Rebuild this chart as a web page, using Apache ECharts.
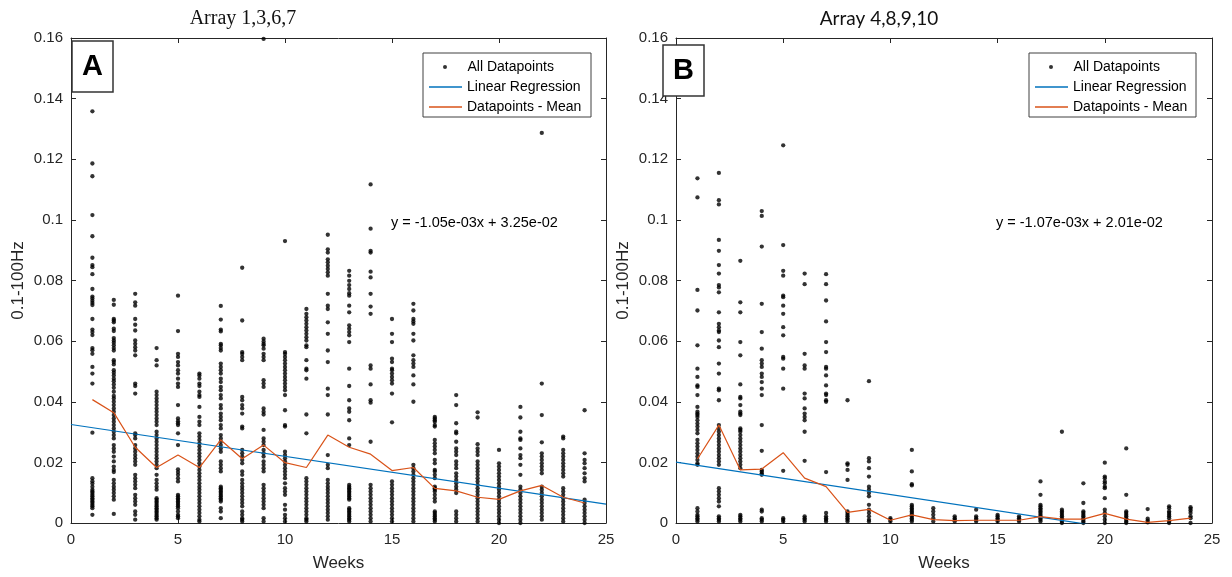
<!DOCTYPE html>
<html>
<head>
<meta charset="utf-8">
<script src="https://cdn.jsdelivr.net/npm/echarts@6/dist/echarts.min.js"></script>
<style>
  html, body { margin: 0; padding: 0; background: #fff; }
  #chart { width: 1232px; height: 577px; }
</style>
</head>
<body>
<div id="chart"></div>
<script>
// Recording weeks (x positions of every column of points)
const weeks = [1,2,3,4,5,6,7,8,9,10,11,12,13,14,15,16,17,18,19,20,21,22,23,24];

// Panel A: arrays 1,3,6,7 — one list of 0.1-100Hz values per week
const pointsA = [
  [0.1358,0.1186,0.1144,0.1016,0.0946,0.0875,0.0851,0.0844,0.0821,0.0772,0.0747,0.0741,0.0733,0.0726,0.0719,0.0673,0.0638,0.063,0.062,0.0577,0.057,0.0558,0.0515,0.0493,0.046,0.0298,0.0148,0.0138,0.013,0.012,0.011,0.0104,0.0099,0.0093,0.0088,0.0082,0.0077,0.0071,0.0066,0.006,0.0055,0.0049,0.0027],
  [0.0736,0.072,0.0673,0.0668,0.0662,0.0641,0.0633,0.061,0.0602,0.0595,0.0586,0.0577,0.0569,0.0537,0.0531,0.0523,0.0504,0.0496,0.0487,0.0476,0.0468,0.0457,0.0446,0.0433,0.0419,0.0411,0.04,0.0389,0.0378,0.0367,0.0356,0.0345,0.0334,0.0323,0.0312,0.0301,0.029,0.0279,0.0257,0.0246,0.0235,0.0219,0.0203,0.0186,0.0175,0.0168,0.0142,0.0131,0.012,0.011,0.0099,0.0088,0.0077,0.003],
  [0.0756,0.0728,0.0717,0.0673,0.0654,0.0635,0.0602,0.0591,0.058,0.0569,0.0553,0.046,0.0452,0.0427,0.0296,0.029,0.0279,0.0257,0.0246,0.0235,0.0224,0.0214,0.0203,0.0192,0.0159,0.0148,0.0137,0.0126,0.0115,0.0093,0.0082,0.0071,0.006,0.0038,0.0027,0.0011],
  [0.0577,0.0537,0.052,0.0433,0.0422,0.0411,0.04,0.0389,0.0378,0.0367,0.0356,0.0345,0.0334,0.0323,0.0301,0.029,0.0279,0.0268,0.0257,0.0246,0.0235,0.0224,0.0214,0.0203,0.0192,0.0181,0.0159,0.0142,0.0131,0.012,0.011,0.0082,0.0077,0.0071,0.0066,0.006,0.0055,0.0049,0.0044,0.0038,0.0033,0.0027,0.0022,0.0016,0.0011],
  [0.075,0.0633,0.0558,0.0548,0.0531,0.052,0.0504,0.0493,0.0476,0.046,0.0449,0.0389,0.0345,0.0336,0.0329,0.0323,0.0296,0.0257,0.0177,0.0168,0.0159,0.0148,0.0137,0.0093,0.0088,0.0082,0.0077,0.0071,0.0066,0.006,0.0055,0.0049,0.0038,0.0027,0.0022,0.0016],
  [0.0493,0.0487,0.0476,0.046,0.0452,0.0433,0.0422,0.0416,0.0383,0.035,0.0334,0.0323,0.0296,0.0285,0.0274,0.0263,0.0252,0.0241,0.023,0.0219,0.0208,0.0197,0.0186,0.0175,0.0164,0.0153,0.0142,0.0131,0.012,0.011,0.0099,0.0088,0.0077,0.0066,0.0055,0.0044,0.0033,0.0022,0.0011,0.0005],
  [0.0716,0.0671,0.0638,0.0632,0.0591,0.0586,0.0577,0.0569,0.0526,0.0515,0.0504,0.0493,0.0476,0.0465,0.0449,0.0438,0.0422,0.0411,0.0389,0.0378,0.0361,0.035,0.0339,0.0323,0.0312,0.029,0.0279,0.0268,0.0257,0.0246,0.0235,0.0203,0.0192,0.0181,0.017,0.012,0.0115,0.011,0.0104,0.0099,0.0093,0.0088,0.0082,0.0077,0.0071,0.0049,0.0038,0.0016],
  [0.0842,0.0668,0.0564,0.0558,0.0548,0.0537,0.0416,0.0405,0.0389,0.0378,0.0361,0.0318,0.0312,0.0241,0.023,0.0219,0.0208,0.0197,0.017,0.0159,0.0142,0.0131,0.012,0.011,0.0099,0.0088,0.0077,0.0066,0.0055,0.0038,0.0027,0.0016,0.0011,0.0005],
  [0.1597,0.0608,0.0599,0.0591,0.0586,0.0575,0.0558,0.0548,0.0537,0.0471,0.046,0.0449,0.0378,0.0367,0.0358,0.0307,0.0279,0.0268,0.0257,0.0241,0.023,0.0219,0.0203,0.0192,0.0181,0.017,0.0126,0.0115,0.0104,0.0093,0.0082,0.0071,0.006,0.0049,0.0016,0.0005],
  [0.093,0.0564,0.0558,0.0548,0.0537,0.0526,0.0515,0.0504,0.0493,0.0482,0.0471,0.046,0.0449,0.0438,0.0422,0.0372,0.0323,0.0318,0.0235,0.0224,0.0214,0.0203,0.0192,0.0181,0.017,0.0159,0.0148,0.0131,0.0115,0.0104,0.0093,0.006,0.0044,0.0027,0.0016,0.0005],
  [0.0706,0.069,0.0679,0.0668,0.0657,0.0646,0.0635,0.0624,0.0613,0.0602,0.0586,0.058,0.0537,0.0509,0.0504,0.0476,0.0358,0.0296,0.0148,0.0137,0.0126,0.0115,0.0104,0.0093,0.0082,0.0071,0.006,0.0049,0.0038,0.0027,0.0016,0.0011,0.0005],
  [0.0951,0.0903,0.0892,0.087,0.086,0.0849,0.0838,0.0827,0.0816,0.0756,0.0717,0.0706,0.0662,0.0624,0.0569,0.0531,0.0443,0.0422,0.0358,0.0224,0.0192,0.0181,0.0142,0.0131,0.012,0.011,0.0099,0.0088,0.0077,0.0066,0.0055,0.0044,0.0033,0.0022,0.0011],
  [0.0832,0.0816,0.0799,0.0785,0.0772,0.0758,0.075,0.0717,0.0695,0.0652,0.0641,0.063,0.0619,0.0597,0.0509,0.0452,0.0405,0.0378,0.0367,0.0339,0.0279,0.0257,0.0126,0.012,0.0115,0.011,0.0104,0.0099,0.0093,0.0088,0.0082,0.0077,0.0049,0.0044,0.0038,0.0033,0.0027,0.0022,0.0016,0.0011,0.0005],
  [0.1117,0.0971,0.0898,0.0892,0.0829,0.081,0.0756,0.0714,0.069,0.052,0.0509,0.0457,0.0405,0.0397,0.0268,0.0126,0.0115,0.0104,0.0093,0.0082,0.0071,0.006,0.0049,0.0038,0.0027,0.0016,0.0005],
  [0.0673,0.0624,0.0597,0.0542,0.0531,0.0509,0.0504,0.0493,0.0482,0.0471,0.046,0.0427,0.0332,0.0137,0.0126,0.0115,0.0104,0.0093,0.0082,0.0071,0.006,0.0049,0.0038,0.0027,0.0016,0.0005],
  [0.0723,0.0701,0.0673,0.0665,0.0657,0.0624,0.0602,0.0553,0.0537,0.0526,0.0515,0.0487,0.0457,0.04,0.0192,0.0181,0.017,0.0159,0.0148,0.0137,0.0126,0.0115,0.0104,0.0093,0.0082,0.0071,0.006,0.0049,0.0038,0.0027,0.0016,0.0005],
  [0.035,0.0345,0.0339,0.0334,0.0323,0.0318,0.0274,0.0263,0.0252,0.0241,0.023,0.0208,0.0197,0.0175,0.017,0.0159,0.0148,0.012,0.0115,0.011,0.0104,0.0093,0.0082,0.0071,0.0038,0.0033,0.0027,0.0022,0.0016,0.0011,0.0005],
  [0.0422,0.0389,0.0329,0.0301,0.0296,0.0268,0.0246,0.0235,0.0224,0.0203,0.0192,0.0181,0.0164,0.0153,0.0142,0.0131,0.012,0.011,0.0099,0.0038,0.0027,0.0016,0.0005],
  [0.0365,0.0348,0.026,0.0246,0.0235,0.0224,0.0203,0.0192,0.0181,0.017,0.0159,0.0148,0.0137,0.0126,0.0115,0.0104,0.0093,0.0082,0.0071,0.006,0.0049,0.0038,0.0027,0.0016,0.0005],
  [0.0241,0.0197,0.0186,0.0175,0.0164,0.0153,0.0142,0.0131,0.012,0.011,0.0099,0.0088,0.0077,0.0066,0.0055,0.0044,0.0033,0.0022,0.0011,0],
  [0.0383,0.0348,0.0301,0.0279,0.0274,0.0246,0.0224,0.0214,0.0192,0.0159,0.012,0.011,0.0099,0.0088,0.0077,0.0066,0.0055,0.0044,0.0033,0.0022,0.0011,0],
  [0.1287,0.046,0.0356,0.0266,0.023,0.0219,0.0208,0.0197,0.0186,0.0175,0.0164,0.012,0.011,0.0099,0.0088,0.0077,0.0066,0.0055,0.0044,0.0033,0.0022,0.0011],
  [0.0285,0.0279,0.0241,0.023,0.0219,0.0208,0.0197,0.0186,0.0175,0.0164,0.0153,0.0115,0.0104,0.0093,0.0082,0.0071,0.006,0.0049,0.0038,0.0027,0.0016,0.0005],
  [0.0372,0.023,0.0208,0.0197,0.0181,0.0164,0.0148,0.0137,0.0077,0.0066,0.0055,0.0044,0.0033,0.0022,0.0011,0]
];
const meanA = [0.0407,0.0364,0.025,0.0183,0.0224,0.0183,0.0274,0.0212,0.0257,0.0199,0.0183,0.029,0.025,0.0227,0.0173,0.0183,0.0114,0.0106,0.0085,0.0078,0.0106,0.0124,0.0085,0.0066];
const slopeA = -1.05e-03;
const interceptA = 3.25e-02;

// Panel B: arrays 4,8,9,10
const pointsB = [
  [0.1137,0.1074,0.0769,0.0701,0.0586,0.0509,0.0482,0.0454,0.0449,0.0422,0.0383,0.0367,0.0361,0.0356,0.035,0.0339,0.0328,0.0318,0.0307,0.0296,0.0274,0.0263,0.0252,0.0241,0.023,0.0219,0.0208,0.0197,0.0192,0.0049,0.0038,0.0027,0.0022,0.0016,0.0011,0.0005],
  [0.1155,0.1065,0.1051,0.0934,0.0898,0.0851,0.0823,0.0785,0.0777,0.0761,0.0695,0.0657,0.0646,0.0635,0.063,0.0602,0.058,0.0526,0.0493,0.0443,0.0438,0.0405,0.0323,0.0312,0.0301,0.029,0.0279,0.0268,0.0257,0.0246,0.0235,0.0224,0.0214,0.0203,0.0192,0.0115,0.0104,0.0093,0.0082,0.0071,0.0055,0.0022,0.0016,0.0011,0.0005],
  [0.0865,0.0728,0.0695,0.0597,0.0553,0.0457,0.0416,0.0411,0.0389,0.0367,0.0361,0.0356,0.0312,0.0307,0.0301,0.029,0.0279,0.0268,0.0257,0.0246,0.0235,0.0224,0.0214,0.0203,0.0192,0.0181,0.0027,0.0022,0.0016,0.0011,0.0005],
  [0.1029,0.1013,0.0912,0.0723,0.063,0.0575,0.0537,0.0526,0.0515,0.0493,0.0482,0.0465,0.0443,0.0422,0.0323,0.0238,0.0175,0.017,0.0164,0.0159,0.0044,0.0038,0.0016,0.0011,0.0005],
  [0.1246,0.0917,0.0832,0.0816,0.075,0.0745,0.0717,0.069,0.0646,0.0619,0.0548,0.0542,0.0509,0.0443,0.0172,0.0016,0.0011,0.0005],
  [0.0823,0.0788,0.0558,0.052,0.0509,0.0427,0.0411,0.0378,0.0361,0.035,0.0339,0.0301,0.0205,0.0022,0.0016,0.0011,0.0005],
  [0.0821,0.0788,0.0734,0.0665,0.0597,0.0564,0.0515,0.0509,0.0487,0.0454,0.0427,0.0422,0.0405,0.04,0.0168,0.0033,0.0022,0.0016,0.0011,0.0005],
  [0.0405,0.0197,0.0192,0.0175,0.0142,0.0038,0.0033,0.0027,0.0022,0.0016,0.0011,0.0005],
  [0.0468,0.0214,0.0203,0.0181,0.0153,0.012,0.011,0.0099,0.0088,0.006,0.0044,0.0033,0.0022,0.0011,0.0005],
  [0.0016,0.0011,0.0005],
  [0.0241,0.017,0.0128,0.0124,0.006,0.0055,0.0049,0.0044,0.0038,0.0033,0.0027,0.0022,0.0016,0.0011,0.0005],
  [0.0049,0.0038,0.0027,0.0016,0.0005],
  [0.0022,0.0016,0.0011,0.0005],
  [0.0044,0.0022,0.0016,0.0011,0.0005],
  [0.0027,0.0022,0.0016,0.0011,0.0005],
  [0.0022,0.0016,0.0011,0.0005],
  [0.0137,0.0093,0.006,0.0055,0.0049,0.0044,0.0038,0.0033,0.0027,0.0022,0.0016,0.0011,0.0005],
  [0.0301,0.0044,0.0038,0.0033,0.0027,0.0022,0.0016,0.0011,0.0005,0],
  [0.0131,0.0066,0.0038,0.0033,0.0027,0.0022,0.0016,0.0011,0.0005,0],
  [0.0199,0.0153,0.0148,0.0137,0.0131,0.012,0.0115,0.0082,0.0044,0.0033,0.0022,0.0011,0],
  [0.0246,0.0093,0.0038,0.0033,0.0027,0.0022,0.0016,0.0011,0.0005,0],
  [0.0046,0.0014,0.0008,0.0002],
  [0.0055,0.0049,0.0038,0.0033,0.0027,0.0022,0.0016,0.0005,0],
  [0.0052,0.0047,0.0041,0.0033,0.0022,0.0016,0]
];
const meanB = [0.0211,0.0323,0.0175,0.0178,0.0232,0.0148,0.012,0.0035,0.0045,0.0009,0.0027,0.0011,0.0008,0.0009,0.0009,0.0009,0.0021,0.0013,0.0013,0.0032,0.0013,0.0002,0.0008,0.0016];
const slopeB = -1.07e-03;
const interceptB = 2.01e-02;

// Axis ranges and tick steps
const xRange = [0, 25];
const xStep = 5;
const yRange = [0, 0.16];
const yStep = 0.02;

const titles = ['Array 1,3,6,7', 'Array 4,8,9,10'];
const panelTags = ['A', 'B'];
const seriesNames = ['All Datapoints', 'Linear Regression', 'Datapoints - Mean'];

const AXIS_COLOR = '#262626';
const BLUE = '#0072BD';
const ORANGE = '#D95319';
const SANS = 'Liberation Sans, Arial, sans-serif';

const fmtCoef = v => {
  const s = v.toExponential(2);          // e.g. "-1.05e-3"
  return s.replace(/e([+-])(\d)$/, 'e$10$2');
};
const equation = (m, b) => 'y = ' + fmtCoef(m) + 'x + ' + fmtCoef(b);

const scatterData = pts => pts.flatMap((vals, i) => vals.map(v => [weeks[i], v]));
const meanData = means => means.map((v, i) => [weeks[i], v]);
const fitData = (m, b) => xRange.map(x => [x, b + m * x]);

// Pixel layout of the two panels
const panels = [
  { left: 71, top: 38, width: 535, height: 487, titleX: 238, titleFont: 'Liberation Serif, Times New Roman, serif', titleSize: 20,
    tagBox: [72, 41, 41, 51], legendBox: [423, 53, 168, 64], eqX: 391 },
  { left: 676, top: 38, width: 536, height: 487, titleX: 874, titleFont: 'Lato, Open Sans, sans-serif', titleSize: 19,
    tagBox: [663, 45, 41, 51], legendBox: [1029, 53, 167, 64], eqX: 996 }
];

const chart = echarts.init(document.getElementById('chart'), null, { renderer: 'canvas' });

const grid = panels.map(p => ({ left: p.left, top: p.top, width: p.width, height: p.height, containLabel: false }));

const baseAxis = {
  type: 'value',
  axisLine: { show: true, onZero: false, lineStyle: { color: AXIS_COLOR, width: 1 } },
  axisTick: { show: true, inside: true, length: 5, lineStyle: { color: AXIS_COLOR, width: 1 } },
  splitLine: { show: false },
  axisLabel: { color: AXIS_COLOR, fontFamily: SANS, fontSize: 15 }
};

const xAxis = [];
const yAxis = [];
panels.forEach((p, i) => {
  xAxis.push(Object.assign({}, baseAxis, {
    gridIndex: i, position: 'bottom', min: xRange[0], max: xRange[1], interval: xStep,
    axisLabel: Object.assign({}, baseAxis.axisLabel, { margin: 9 }),
    name: 'Weeks', nameLocation: 'middle', nameGap: 32,
    nameTextStyle: { color: AXIS_COLOR, fontFamily: SANS, fontSize: 17 }
  }));
  xAxis.push(Object.assign({}, baseAxis, {
    gridIndex: i, position: 'top', min: xRange[0], max: xRange[1], interval: xStep,
    axisLabel: { show: false }
  }));
  yAxis.push(Object.assign({}, baseAxis, {
    gridIndex: i, position: 'left', min: yRange[0], max: yRange[1], interval: yStep,
    axisLabel: Object.assign({}, baseAxis.axisLabel, { margin: 8 }),
    name: '0.1-100Hz', nameLocation: 'middle', nameGap: 44, nameRotate: 90,
    nameTextStyle: { color: AXIS_COLOR, fontFamily: SANS, fontSize: 17 }
  }));
  yAxis.push(Object.assign({}, baseAxis, {
    gridIndex: i, position: 'right', min: yRange[0], max: yRange[1], interval: yStep,
    axisLabel: { show: false }
  }));
});

const datasets = [
  { pts: pointsA, mean: meanA, m: slopeA, b: interceptA },
  { pts: pointsB, mean: meanB, m: slopeB, b: interceptB }
];

const series = [];
datasets.forEach((d, i) => {
  const axes = { xAxisIndex: i * 2, yAxisIndex: i * 2 };
  series.push(Object.assign({
    name: seriesNames[0], type: 'scatter', data: scatterData(d.pts),
    symbol: 'circle', symbolSize: 4.3, itemStyle: { color: '#000' }, silent: true, z: 3
  }, axes));
  series.push(Object.assign({
    name: seriesNames[1], type: 'line', data: fitData(d.m, d.b),
    symbol: 'none', clip: true, lineStyle: { color: BLUE, width: 1.2 }, itemStyle: { color: BLUE }, silent: true, z: 4
  }, axes));
  series.push(Object.assign({
    name: seriesNames[2], type: 'line', data: meanData(d.mean),
    symbol: 'none', clip: true, lineStyle: { color: ORANGE, width: 1.2 }, itemStyle: { color: ORANGE }, silent: true, z: 5
  }, axes));
});

// Boxed legend: a dot entry for the scatter, plain line samples for the two lines
const legendText = { color: '#000', fontFamily: SANS, fontSize: 14, lineHeight: 14 };
const legend = [];
panels.forEach(p => {
  const lx = p.legendBox[0] + 6;
  legend.push({
    data: [{ name: seriesNames[0], icon: 'circle' }], orient: 'vertical', left: lx + 14, top: p.legendBox[1] + 7,
    padding: 0, itemWidth: 35, itemHeight: 4, textStyle: legendText, selectedMode: false, z: 10
  });
  legend.push({
    data: [{ name: seriesNames[1], icon: 'rect' }, { name: seriesNames[2], icon: 'rect' }],
    orient: 'vertical', left: lx, top: p.legendBox[1] + 27,
    padding: 0, itemWidth: 33, itemHeight: 1.3, itemGap: 6, textStyle: legendText, selectedMode: false, z: 10
  });
});

const title = panels.map((p, i) => ({
  text: titles[i], left: p.titleX, top: 4, textAlign: 'center',
  textStyle: { fontFamily: p.titleFont, fontSize: p.titleSize, fontWeight: 'normal', color: '#111' }
}));

const graphic = [];
panels.forEach((p, i) => {
  const [bx, by, bw, bh] = p.tagBox;
  graphic.push({ type: 'rect', z: 20, shape: { x: bx, y: by, width: bw, height: bh },
    style: { fill: '#fff', stroke: '#333', lineWidth: 1.5 } });
  graphic.push({ type: 'text', z: 21, x: bx + bw / 2, y: by + bh / 2,
    style: { text: panelTags[i], fontFamily: SANS, fontSize: 29, fontWeight: 'bold', fill: '#000', align: 'center', verticalAlign: 'middle' } });
  const [lx, ly, lw, lh] = p.legendBox;
  graphic.push({ type: 'rect', z: 8, shape: { x: lx, y: ly, width: lw, height: lh },
    style: { fill: '#fff', stroke: '#404040', lineWidth: 1 } });
  graphic.push({ type: 'text', z: 9, x: p.eqX, y: 223,
    style: { text: equation(datasets[i].m, datasets[i].b), fontFamily: SANS, fontSize: 14.5, fill: '#000', verticalAlign: 'middle' } });
});

chart.setOption({
  backgroundColor: '#fff',
  animation: false,
  title, grid, xAxis, yAxis, series, legend, graphic
});
</script>
</body>
</html>
